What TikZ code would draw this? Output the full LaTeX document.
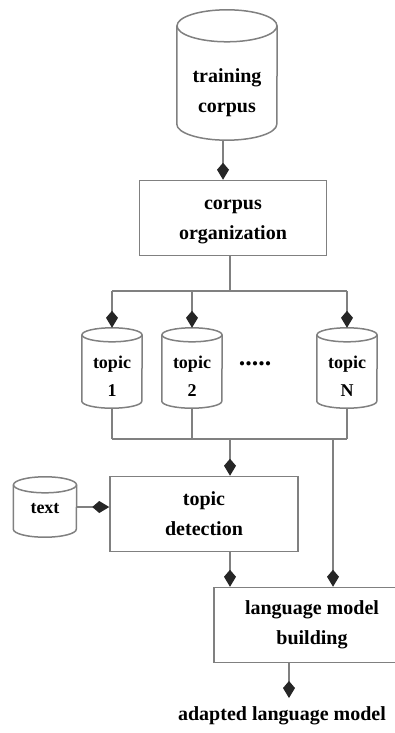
\documentclass[tikz,border=0pt]{standalone}
\usepackage{fontspec}
\setmainfont{Liberation Serif}
\usetikzlibrary{arrows.meta}

% cylinder outline round a rectangular node: name, half width, cap radius
\newcommand\drum[3]{%
  \draw[wire] ([yshift=-#3]#1.north) ellipse [x radius=#2, y radius=#3];
  \draw[wire] ([yshift=-#3]#1.north west) -- ([yshift=#3]#1.south west)
    arc [start angle=180, end angle=360, x radius=#2, y radius=#3]
    -- ([yshift=-#3]#1.north east);}

\begin{document}
\begin{tikzpicture}[x=1pt,y=-1pt,font=\fontsize{20}{30}\selectfont\bfseries]

  \tikzstyle{wire}=[draw=gray,line width=1.5pt]
  \tikzstyle{feed}=[wire,-{Kite[length=17pt,width=12pt,inset=7pt,black!85]}]
  \tikzstyle{block}=[rectangle,draw=gray,line width=1.5pt,align=center,
                     minimum height=75pt]
  \tikzstyle{store}=[rectangle,inner sep=0pt]
  \tikzstyle{tag}=[align=center,inner sep=0pt]
  \tikzstyle{small store}=[store,minimum width=60pt,minimum height=80pt]

  \useasboundingbox (0,0) rectangle (394,733);

  \node[store,minimum width=100pt,minimum height=130pt,
        label={[tag,yshift=-18pt]center:training\\corpus}]
    (corpus) at (227,75) {};
  \node[block,minimum width=187pt,
        label={[tag,yshift=-4pt]center:corpus\\organization}]
    (organize) at (233,218) {};

  \begin{scope}[font=\fontsize{18}{28}\selectfont\bfseries]
    \node[small store,label={[tag,yshift=-8pt]center:topic\\1}]
      (topicA) at (112,368) {};
    \node[small store,label={[tag,yshift=-8pt]center:topic\\2}]
      (topicB) at (192,368) {};
    \node[font=\fontsize{26}{28}\selectfont\bfseries]
      (dots) at (255,364) {.....};
    \node[small store,label={[tag,yshift=-8pt]center:topic\\N}]
      (topicN) at (347,368) {};
    \node[store,minimum width=63pt,minimum height=60pt,
          label={[tag,yshift=-2pt]center:text}]
      (text) at (45,507) {};
  \end{scope}

  \drum{corpus}{50pt}{16pt}
  \drum{topicA}{30pt}{7pt}
  \drum{topicB}{30pt}{7pt}
  \drum{topicN}{30pt}{7pt}
  \drum{text}{31.5pt}{8pt}

  \node[block,minimum width=188pt] (detect) at (204,514) {topic\\detection};
  \node[block,minimum width=196pt] (build) at (312,625)
    {language model\\building};
  \node (result) at (282,716) {adapted language model};

  \coordinate (split) at (230,291);
  \coordinate (join)  at (230,439);
  \coordinate (side)  at (333,439);
  \coordinate (out)   at (289,698);

  % corpus into topics
  \draw[feed] (corpus.south -| 223,0) -- (223,0 |- organize.north);
  \draw[wire] (organize.south -| split) -- (split);
  \draw[wire] (topicA.north |- split) -- (topicN.north |- split);
  \foreach \t in {topicA,topicB,topicN}
    \draw[feed] (\t.north |- split) -- (\t.north);

  % topics into detection and building
  \foreach \t in {topicA,topicB,topicN}
    \draw[wire] (\t.south) -- (\t.south |- join);
  \draw[wire] (topicA.south |- join) -- (topicN.south |- join);
  \draw[feed] (join) -- (join |- detect.north);
  \draw[feed] (text.east) -- (text.east -| detect.west);
  \draw[feed] (detect.south -| join) -- (join |- build.north);
  \draw[feed] (side) -- (side |- build.north);
  \draw[feed] (build.south -| out) -- (out);

\end{tikzpicture}
\end{document}
